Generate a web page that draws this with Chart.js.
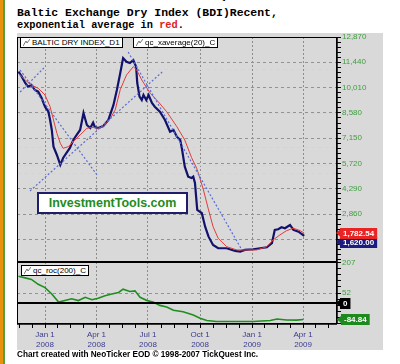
<!DOCTYPE html>
<html>
<head>
<meta charset="utf-8">
<script src="https://cdn.jsdelivr.net/npm/chart.js@4.4.1/dist/chart.umd.min.js"></script>
<style>
  body { margin: 0; width: 400px; height: 364px; position: relative; overflow: hidden; background: #fff; font-family: Arial, "Liberation Sans", sans-serif; }
  .abs { position: absolute; }
  .mono { font-family: "Liberation Mono", "Courier New", monospace; font-weight: bold; white-space: nowrap; }
  .legend { position: absolute; height: 9px; background: #fff; border: 1px solid #000; font-size: 8px; line-height: 9px; white-space: nowrap; padding: 0 2px 0 2px; color: #000; }
  .legend svg { vertical-align: -1px; margin-right: 2px; }
  .small { font-size: 8.2px; font-weight: bold; white-space: nowrap; color: #000; }
</style>
</head>
<body>
<div class="abs" style="left:0;top:0;width:3px;height:364px;background:#e8920e"></div>
<div class="abs" style="left:3px;top:0;width:2px;height:364px;background:#55a045"></div>
<div class="abs small" style="left:18px;top:-8px">Chart created with NeoTicker EOD © 1998-2007 TickQuest Inc.</div>
<div class="abs mono" style="left:17px;top:6px;font-size:11.45px">Baltic Exchange Dry Index (BDI)Recent,</div>
<div class="abs mono" style="left:17px;top:19px;font-size:10.3px">exponential average in <span style="color:#e02020">red</span>.</div>
<div class="abs" style="left:17px;top:33px;width:366px;height:317px;background:#d9d9d9"></div>
<canvas id="top" class="abs" style="left:17px;top:26px" width="366" height="246"></canvas>
<canvas id="bottom" class="abs" style="left:17px;top:250px" width="366" height="102"></canvas>
<div class="legend" style="left:20px;top:37px"><svg width="7" height="7"><polyline points="0,7 3,2 4,4 7,0" fill="none" stroke="#777" stroke-width="1"/></svg>BALTIC DRY INDEX_D1</div>
<div class="legend" style="left:133px;top:37px"><svg width="7" height="7"><polyline points="0,7 3,2 4,4 7,0" fill="none" stroke="#777" stroke-width="1"/></svg>qc_xaverage(20)_C</div>
<div class="legend" style="left:21px;top:265px"><svg width="7" height="7"><polyline points="0,7 3,2 4,4 7,0" fill="none" stroke="#777" stroke-width="1"/></svg>qc_roc(200)_C</div>
<div class="abs" style="left:37px;top:192px;width:147px;height:18px;border:2px solid #1e1e6a;background:#fff;color:#238c23;font-weight:bold;font-size:12.5px;line-height:18px;text-align:center">InvestmentTools.com</div>
<div class="abs small" style="left:17px;top:350px">Chart created with NeoTicker EOD © 1998-2007 TickQuest Inc.</div>
<script>
// days counted from Jan 1 2008
const quarterDays = [0, 91, 182, 274, 366, 456];
const quarterLabels = [['Jan 1', '2008'], ['Apr 1', '2008'], ['Jul 1', '2008'], ['Oct 1', '2008'], ['Jan 1', '2009'], ['Apr 1', '2009']];

const bdiDays = [-47, -41, -35, -30, -24, -18, -12, -6, 0, 6, 9, 12, 15, 21, 27, 32, 38, 44, 50, 56, 62, 65, 68, 74, 80, 85, 88, 94, 103, 112, 121, 127, 133, 138, 144, 150, 156, 161, 163, 167, 171, 174, 179, 183, 189, 194, 203, 212, 221, 227, 233, 239, 242, 247, 253, 259, 262, 265, 269, 277, 283, 289, 297, 306, 321, 336, 345, 353, 368, 380, 392, 401, 406, 412, 418, 424, 433, 439, 448, 458];
const bdiValues = [10909, 10626, 10270, 10061, 10157, 9874, 9778, 9422, 8931, 8648, 8179, 7614, 6670, 6201, 5636, 6031, 6314, 6596, 7048, 7331, 7614, 8083, 8574, 7896, 7727, 8026, 7783, 7727, 7840, 8179, 9027, 9874, 10835, 11683, 11474, 11400, 11570, 11191, 10270, 9496, 9309, 9592, 9309, 9592, 9140, 8931, 8648, 8179, 7518, 7614, 7235, 7048, 6550, 5539, 4974, 4901, 4974, 4618, 3092, 2922, 2148, 1583, 1114, 927, 927, 775, 735, 831, 870, 927, 984, 1210, 1962, 2001, 2114, 2058, 2244, 1962, 1865, 1620];

const emaDays = [-47, -35, -24, -12, 0, 9, 15, 21, 27, 32, 41, 50, 62, 74, 85, 94, 103, 115, 124, 133, 144, 156, 162, 171, 186, 200, 215, 233, 247, 259, 268, 271, 280, 289, 297, 306, 321, 339, 356, 374, 392, 403, 415, 427, 439, 451, 458];
const emaValues = [10818, 10440, 10157, 9970, 9592, 8931, 8179, 7427, 6862, 6579, 6670, 6952, 7331, 7710, 7766, 7710, 7800, 8250, 8744, 9900, 10722, 11191, 11005, 10440, 9688, 9214, 8648, 7800, 7048, 6050, 5449, 5166, 4223, 3092, 2148, 1492, 1017, 831, 831, 831, 1017, 1396, 1679, 1922, 2058, 1922, 1782.54];

const rocDays = [-47, -35, -24, -12, 0, 12, 24, 35, 47, 59, 71, 83, 94, 106, 118, 130, 138, 150, 159, 168, 180, 191, 203, 215, 227, 244, 262, 274, 286, 303, 339, 368, 398, 410, 427, 445, 456];
const rocValues = [138, 130, 122, 97, 80, 47, 5, 13, 22, 13, 30, 17, 25, 38, 47, 55, 72, 60, 63, 30, 13, 5, -12, -20, -37, -45, -62, -78, -90, -95, -95, -95, -90, -82, -87, -88, -84.84];

// dotted trend lines drawn on the price panel
const trendStartDays = [-44, -26.5, -44, 147];
const trendStartValues = [11005, 4166, 9761, 12022];
const trendEndDays = [92, 207, -2, 348];
const trendEndValues = [5070, 10892, 11118, 830];

// yellow horizontal levels
const levelValues = [11061, 8575, 6653, 5636, 5183];

const priceTickStep = 1430;
const rocLabelTicks = [207, 52];
const rocTicks = [207, 176, 145, 114, 83, 52, 21, -10, -41, -72, -103];

const xMin = -49.5, xMax = 516;

const xTicks = [];
for (let d = -45.5; d < 0; d += 22.75) xTicks.push(d);
for (let i = 0; i < quarterDays.length - 1; i++) {
  const step = (quarterDays[i + 1] - quarterDays[i]) / 4;
  for (let k = 0; k < 4; k++) xTicks.push(quarterDays[i] + step * k);
}
for (let d = 456; d < xMax; d += 22.75) xTicks.push(d);

const pts = (xs, ys) => xs.map((x, i) => ({ x: x, y: ys[i] }));
const green = '#3f9f3f';
const isQuarter = v => quarterDays.indexOf(v) >= 0;

function badge(ctx, x, y, text, bg) {
  ctx.font = 'bold 8px Arial';
  const w = ctx.measureText(text).width + 6, h = 11;
  ctx.fillStyle = bg;
  ctx.beginPath();
  ctx.moveTo(x - 4, y);
  ctx.lineTo(x, y - 3.5);
  ctx.lineTo(x, y + 3.5);
  ctx.closePath();
  ctx.fill();
  ctx.fillRect(x, Math.round(y - h / 2), w, h);
  ctx.fillStyle = '#fff';
  ctx.textAlign = 'left';
  ctx.textBaseline = 'middle';
  ctx.fillText(text, x + 3, y + 0.5);
}

const fmt2 = v => v.toLocaleString('en-US', { minimumFractionDigits: 2, maximumFractionDigits: 2 });

const pricePanel = {
  id: 'pricePanel',
  beforeDatasetsDraw(chart) {
    const { ctx, chartArea: a, scales: { y } } = chart;
    ctx.save();
    ctx.strokeStyle = '#e6df6a';
    ctx.lineWidth = 1;
    ctx.setLineDash([4, 3]);
    levelValues.forEach(v => {
      const py = Math.round(y.getPixelForValue(v)) + 0.5;
      ctx.beginPath();
      ctx.moveTo(a.left, py);
      ctx.lineTo(a.right, py);
      ctx.stroke();
    });
    ctx.restore();
  },
  afterDraw(chart) {
    const { ctx, chartArea: a, scales: { y } } = chart;
    ctx.save();
    ctx.strokeStyle = '#000';
    ctx.lineWidth = 1;
    ctx.strokeRect(a.left + 0.5, a.top + 0.5, a.right - a.left - 1, a.bottom - a.top);
    ctx.lineWidth = 1.5;
    ctx.beginPath();
    ctx.moveTo(a.right, a.top);
    ctx.lineTo(a.right, a.bottom);
    ctx.stroke();
    const lastBdi = bdiValues[bdiValues.length - 1];
    const lastEma = emaValues[emaValues.length - 1];
    const yRed = y.getPixelForValue(lastEma);
    let yBlue = y.getPixelForValue(lastBdi);
    if (Math.abs(yBlue - yRed) < 11) yBlue = yRed + 9;
    badge(ctx, a.right + 3, yBlue, fmt2(lastBdi), '#1c1c80');
    badge(ctx, a.right + 3, yRed, fmt2(lastEma), '#e82424');
    ctx.restore();
  }
};

const rocPanel = {
  id: 'rocPanel',
  afterDraw(chart) {
    const { ctx, chartArea: a, scales: { y } } = chart;
    ctx.save();
    ctx.strokeStyle = '#000';
    ctx.lineWidth = 1;
    ctx.strokeRect(a.left + 0.5, a.top + 0.5, a.right - a.left - 1, a.bottom - a.top - 1);
    ctx.lineWidth = 2;
    const y0 = y.getPixelForValue(0);
    ctx.beginPath();
    ctx.moveTo(a.left, a.top); ctx.lineTo(a.right, a.top);
    ctx.moveTo(a.left, y0); ctx.lineTo(a.right, y0);
    ctx.stroke();
    ctx.lineWidth = 1.5;
    ctx.beginPath();
    ctx.moveTo(a.left, a.bottom); ctx.lineTo(a.right, a.bottom);
    ctx.moveTo(a.right, a.top); ctx.lineTo(a.right, a.bottom);
    ctx.stroke();
    badge(ctx, a.right + 3, y0, '0', '#000');
    const lastRoc = rocValues[rocValues.length - 1];
    badge(ctx, a.right + 4, y.getPixelForValue(lastRoc), fmt2(lastRoc), '#1e8a1e');
    ctx.restore();
  }
};

const common = {
  responsive: false,
  animation: false,
  events: [],
  plugins: { legend: { display: false }, tooltip: { enabled: false } }
};

new Chart(document.getElementById('top'), {
  type: 'line',
  data: {
    datasets: [
      { data: pts(bdiDays, bdiValues), borderColor: '#12126c', borderWidth: 2.2, pointRadius: 0, order: 3 },
      { data: pts(emaDays, emaValues), borderColor: '#e03c3c', borderWidth: 1, pointRadius: 0, order: 2 }
    ].concat(trendStartDays.map((d, i) => ({
      data: [{ x: d, y: trendStartValues[i] }, { x: trendEndDays[i], y: trendEndValues[i] }],
      borderColor: '#5a6cd4', borderWidth: 1.2, borderDash: [2, 2], pointRadius: 0, order: 1
    })))
  },
  options: Object.assign({}, common, {
    layout: { padding: { top: 11, bottom: 10, left: 0, right: 0 } },
    scales: {
      x: {
        type: 'linear', min: xMin, max: xMax,
        afterBuildTicks: s => { s.ticks = quarterDays.map(v => ({ value: v })); },
        ticks: { display: false },
        grid: { color: '#8c8c8c', drawTicks: false, lineWidth: 1 },
        border: { display: false, dash: [2, 2] }
      },
      y: {
        type: 'linear', position: 'right', min: 150, max: 12870,
        afterBuildTicks: s => {
          const t = [];
          for (let k = 1; k <= 45; k++) t.push({ value: k * 286 });
          s.ticks = t;
        },
        afterFit: s => { s.width = 46; },
        ticks: {
          autoSkip: false, padding: 1, color: green, font: { size: 8, family: 'Arial' },
          callback: v => (v % priceTickStep === 0 ? v.toLocaleString('en-US') : '')
        },
        grid: {
          color: c => (c.tick && c.tick.value % priceTickStep === 0 ? '#929292' : 'rgba(0,0,0,0)'),
          tickColor: '#000', tickLength: 4, tickBorderDash: []
        },
        border: { display: false, dash: [3, 3] }
      }
    }
  }),
  plugins: [pricePanel]
});

new Chart(document.getElementById('bottom'), {
  type: 'line',
  data: {
    datasets: [
      { data: pts(rocDays, rocValues), borderColor: '#1e8e1e', borderWidth: 1.6, pointRadius: 0 }
    ]
  },
  options: Object.assign({}, common, {
    layout: { padding: { top: 12, bottom: 0, left: 0, right: 0 } },
    scales: {
      x: {
        type: 'linear', min: xMin, max: xMax,
        afterBuildTicks: s => { s.ticks = xTicks.map(v => ({ value: v })); },
        ticks: {
          autoSkip: false, maxRotation: 0, padding: 2, color: '#3b3b8f',
          font: { size: 8, family: 'Arial', lineHeight: 1.25 },
          callback: v => (isQuarter(v) ? quarterLabels[quarterDays.indexOf(v)] : '')
        },
        grid: {
          color: c => (c.tick && isQuarter(c.tick.value) ? '#8c8c8c' : 'rgba(0,0,0,0)'),
          tickColor: '#000', tickLength: 4, tickBorderDash: []
        },
        border: { display: false, dash: [2, 2] }
      },
      y: {
        type: 'linear', position: 'right', min: -108, max: 212,
        afterBuildTicks: s => { s.ticks = rocTicks.map(v => ({ value: v })); },
        afterFit: s => { s.width = 46; },
        ticks: {
          autoSkip: false, padding: 1, color: green, font: { size: 8, family: 'Arial' },
          callback: v => (rocLabelTicks.indexOf(v) >= 0 ? String(v) : '')
        },
        grid: {
          color: c => (c.tick && c.tick.value === 52 ? '#929292' : 'rgba(0,0,0,0)'),
          tickColor: '#000', tickLength: 4, tickBorderDash: []
        },
        border: { display: false, dash: [3, 3] }
      }
    }
  }),
  plugins: [rocPanel]
});
</script>
</body>
</html>
